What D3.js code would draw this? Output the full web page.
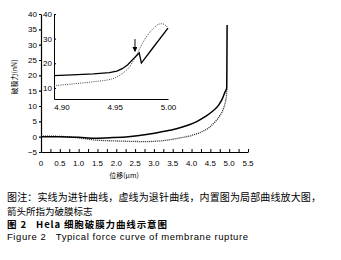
<!DOCTYPE html>
<html lang="zh">
<head>
  <meta charset="UTF-8">
  <title>Hela force curve</title>
  <script src="https://d3js.org/d3.v7.min.js"></script>
  <style>
    * { margin: 0; padding: 0; box-sizing: border-box; }
    body { background: #fff; font-family: "Liberation Sans", Arial, sans-serif; }
    .cap { font-family: "Noto Sans CJK SC", "Liberation Sans", sans-serif; }
    .cap text { white-space: pre; }
  </style>
</head>
<body>
  <div id="chart"></div>
  <script>
    // main curve: [位移 μm, 破膜力 nN]
    const mainSolid = [[0,0],[0.5,0],[1.0,-0.2],[1.44,-0.5],[1.9,-0.3],[2.32,0],[2.8,0.7],[3.21,1.6],[3.6,2.6],[3.92,3.8],[4.15,5.0],[4.36,6.5],[4.55,8.2],[4.72,10.3],[4.82,12.4],[4.89,14.6],[4.935,15.9],[4.94,25],[4.945,36.4]];
    const mainDotted = [[0,0.2],[0.5,0.1],[1.0,-0.4],[1.44,-1.1],[2.0,-1.4],[2.77,-1.6],[3.16,-1.4],[3.65,-0.5],[4.0,0.4],[4.27,1.6],[4.47,3.0],[4.63,4.9],[4.76,7.0],[4.85,9.2],[4.9,11.4],[4.93,13.6],[4.94,15.9]];
    // inset (zoomed) curves
    const insetSolid = [[4.893,15.0],[4.91,15.3],[4.93,15.7],[4.945,16.2],[4.952,16.8],[4.957,17.8],[4.962,19.3],[4.967,21.6],[4.973,24.2],[4.975,20.1],[4.985,25.8],[5.0,34.3]];
    const insetDotted = [[4.893,10.9],[4.91,11.6],[4.93,12.5],[4.947,13.6],[4.955,15.2],[4.963,18.1],[4.97,23.0],[4.978,29.6],[4.985,33.6],[4.991,35.8],[4.995,36.0],[4.998,35.3],[5.0,34.3]];
    const arrowMark = [4.969, 29.8, 24.9];   // x, from, to

    const xTicks = d3.range(0, 5.51, 0.25);
    const xLabels = [0, 0.5, 1.0, 1.5, 2.0, 2.5, 3.0, 3.5, 4.0, 4.5, 5.0, 5.5];
    const yTicks = [-5, 0, 5, 10, 15, 20, 25, 30, 35, 40];
    const inXTicks = [4.90, 4.95, 5.00];
    const inYTicks = [10, 20, 30, 40];

    const captions = [
      "图注：实线为进针曲线，虚线为退针曲线，内置图为局部曲线放大图，",
      "箭头所指为破膜标志",
      "图 2   Hela 细胞破膜力曲线示意图",
      "Figure 2   Typical force curve of membrane rupture"
    ];

    const W = 341, H = 260;
    const svg = d3.select("#chart").append("svg")
      .attr("width", W).attr("height", H);

    const x = d3.scaleLinear().domain([0, 5.5]).range([41, 248]);
    const y = d3.scaleLinear().domain([-5, 40]).range([152, 14]);
    const xi = d3.scaleLinear().domain([4.893, 5.0]).range([54, 168]);
    const yi = d3.scaleLinear().domain([5.5, 40]).range([99, 14]);

    // main axes
    const gx = svg.append("g").attr("transform", `translate(0,${y(-5)})`)
      .call(d3.axisBottom(x).tickValues(xTicks).tickSize(-3).tickSizeOuter(0).tickFormat(""));
    gx.selectAll("path,line").attr("stroke", "#000").attr("stroke-width", 1);
    svg.append("g").selectAll("text").data(xLabels).enter().append("text")
      .attr("x", d => x(d)).attr("y", y(-5) + 14)
      .attr("text-anchor", "middle").style("font-size", "8px")
      .text(d => d === 0 ? "0" : d3.format(".1f")(d));

    const gy = svg.append("g").attr("transform", `translate(${x(0)},0)`)
      .call(d3.axisLeft(y).tickValues(yTicks).tickSize(2).tickPadding(2).tickSizeOuter(0));
    gy.selectAll("path,line").attr("stroke", "#000").attr("stroke-width", 1.2);
    gy.selectAll("text").style("font-size", "8px").style("font-family", "Liberation Sans, Arial");

    svg.append("text").attr("class", "cap")
      .attr("x", 124).attr("y", 178).attr("text-anchor", "middle")
      .style("font-size", "7px").text("位移(μm)");
    svg.append("text").attr("class", "cap")
      .attr("transform", `translate(17,77) rotate(-90)`).attr("text-anchor", "middle")
      .style("font-size", "7px").text("破膜力(nN)");

    const line = d3.line().x(d => x(d[0])).y(d => y(d[1])).curve(d3.curveMonotoneX);
    svg.append("path").datum(mainDotted).attr("d", line)
      .attr("fill", "none").attr("stroke", "#222").attr("stroke-width", 1.3)
      .attr("stroke-dasharray", "1,1");
    svg.append("path").datum(mainSolid).attr("d", line)
      .attr("fill", "none").attr("stroke", "#000").attr("stroke-width", 1.5);

    // inset
    const ix = svg.append("g").attr("transform", `translate(0,${yi(5.5)})`)
      .call(d3.axisBottom(xi).tickValues(inXTicks).tickSize(0).tickPadding(5)
        .tickFormat(d3.format(".2f")));
    ix.select(".domain").attr("stroke", "#000").attr("stroke-width", 1.2);
    ix.selectAll("text").style("font-size", "8px");
    const iy = svg.append("g").attr("transform", `translate(${xi(4.893)},0)`)
      .call(d3.axisLeft(yi).tickValues(inYTicks).tickSize(-2).tickPadding(2).tickSizeOuter(0));
    iy.selectAll("path,line").attr("stroke", "#000").attr("stroke-width", 1);
    iy.selectAll("text").style("font-size", "8px");

    const iline = d3.line().x(d => xi(d[0])).y(d => yi(d[1]));
    svg.append("path").datum(insetDotted).attr("d", iline.curve(d3.curveCatmullRom))
      .attr("fill", "none").attr("stroke", "#444").attr("stroke-width", 1)
      .attr("stroke-dasharray", "1,1.2");
    svg.append("path").datum(insetSolid).attr("d", iline.curve(d3.curveLinear))
      .attr("fill", "none").attr("stroke", "#000").attr("stroke-width", 1.3);

    svg.append("defs").append("marker").attr("id", "arr")
      .attr("viewBox", "0 0 6 6").attr("refX", 5).attr("refY", 3)
      .attr("markerWidth", 5).attr("markerHeight", 5).attr("orient", "auto")
      .append("path").attr("d", "M0,0L6,3L0,6Z").attr("fill", "#000");
    svg.append("line")
      .attr("x1", xi(arrowMark[0])).attr("x2", xi(arrowMark[0]))
      .attr("y1", yi(arrowMark[1])).attr("y2", yi(arrowMark[2]))
      .attr("stroke", "#000").attr("stroke-width", 1).attr("marker-end", "url(#arr)");

    // caption
    const cap = svg.append("g").attr("class", "cap");
    cap.append("text").attr("x", 7).attr("y", 201).style("font-size", "10px")
      .attr("textLength", 314).attr("lengthAdjust", "spacing").text(captions[0]);
    cap.append("text").attr("x", 7).attr("y", 215).style("font-size", "9.5px").text(captions[1]);
    cap.append("text").attr("x", 7).attr("y", 228).style("font-size", "9.5px")
      .style("font-weight", "bold").attr("textLength", 160).attr("lengthAdjust", "spacing").text(captions[2]);
    cap.append("text").attr("x", 7).attr("y", 240).style("font-size", "9.5px")
      .style("font-family", "Liberation Sans, Arial").attr("textLength", 241)
      .attr("lengthAdjust", "spacing").text(captions[3]);
  </script>
</body>
</html>
